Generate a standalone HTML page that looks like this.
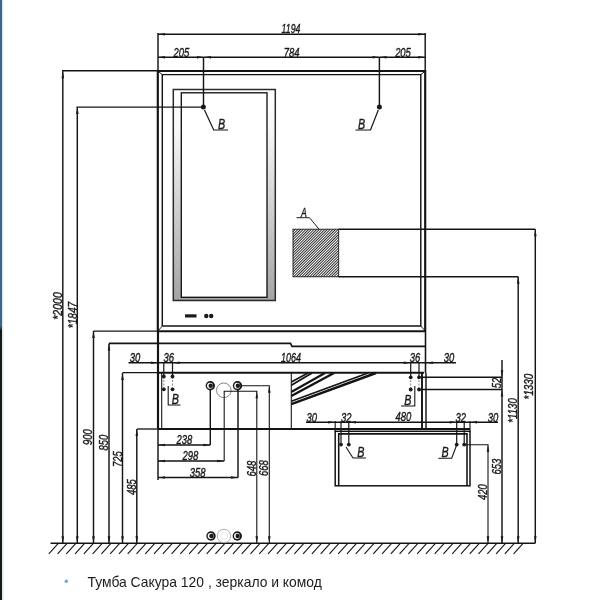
<!DOCTYPE html>
<html><head><meta charset="utf-8"><style>
html,body{margin:0;padding:0;background:#fff;}
body{width:600px;height:600px;overflow:hidden;position:relative;font-family:"Liberation Sans",sans-serif;}
svg{position:absolute;left:0;top:0;filter:blur(0.45px);}
svg text{font-family:"Liberation Sans",sans-serif;font-style:italic;fill:#1a1a1a;stroke:#1a1a1a;stroke-width:0.4px;}
.cap{position:absolute;left:87px;top:574px;font-size:12px;color:#111;white-space:nowrap;line-height:14px;}
.dot{position:absolute;left:65px;top:578.5px;width:3px;height:3px;border-radius:50%;background:#7db6dc;}
.s1{position:absolute;left:0;top:0;width:2.3px;height:600px;background:linear-gradient(#40648a 0,#40648a 326px,#0c1a12 331px,#1a1a1a 337px,#1a1a1a 600px);}
.s2{position:absolute;left:2.3px;top:0;width:2px;height:600px;background:linear-gradient(90deg,#cfe0ea,#fff);}
</style></head><body>
<svg width="600" height="600" viewBox="0 0 600 600">
<defs>
<pattern id="hatch" width="1.9" height="1.9" patternUnits="userSpaceOnUse" patternTransform="rotate(-45)"><rect width="1.9" height="1.9" fill="#fff"/><rect width="1.9" height="0.95" fill="#2a2a2a"/></pattern>
<linearGradient id="mg" x1="0" y1="0" x2="0" y2="1"><stop offset="0" stop-color="#fff"/><stop offset="0.2" stop-color="#f6f6f6"/><stop offset="0.5" stop-color="#d6d6d6"/><stop offset="1" stop-color="#a4a4a4"/></linearGradient>
</defs>
<rect x="173.3" y="89.5" width="102" height="211" fill="url(#mg)" stroke="#2a2a2a" stroke-width="1.5"/>
<rect x="181.3" y="92.8" width="85.69999999999999" height="204.5" fill="#fff" stroke="#141414" stroke-width="1.35"/>
<line x1="158" y1="34.3" x2="425.2" y2="34.3" stroke="#141414" stroke-width="1.44"/>
<polygon points="158,34.3 165,33.0 165,35.599999999999994" fill="#1a1a1a"/>
<polygon points="425.2,34.3 418.2,33.0 418.2,35.599999999999994" fill="#1a1a1a"/>
<line x1="158" y1="33" x2="158" y2="71" stroke="#141414" stroke-width="1.44"/>
<line x1="425.2" y1="33" x2="425.2" y2="71" stroke="#141414" stroke-width="1.44"/>
<line x1="158" y1="57.3" x2="425.2" y2="57.3" stroke="#141414" stroke-width="1.44"/>
<polygon points="158,57.3 165,56.0 165,58.599999999999994" fill="#1a1a1a"/>
<polygon points="204,57.3 197,56.0 197,58.599999999999994" fill="#1a1a1a"/>
<polygon points="204,57.3 211,56.0 211,58.599999999999994" fill="#1a1a1a"/>
<polygon points="379.5,57.3 372.5,56.0 372.5,58.599999999999994" fill="#1a1a1a"/>
<polygon points="379.5,57.3 386.5,56.0 386.5,58.599999999999994" fill="#1a1a1a"/>
<polygon points="425.2,57.3 418.2,56.0 418.2,58.599999999999994" fill="#1a1a1a"/>
<line x1="203.5" y1="57" x2="203.5" y2="107" stroke="#141414" stroke-width="1.44"/>
<line x1="379.4" y1="57" x2="379.4" y2="107" stroke="#141414" stroke-width="1.44"/>
<text x="291" y="33.3" text-anchor="middle" font-size="13.2" textLength="18.8" lengthAdjust="spacingAndGlyphs">1194</text>
<text x="181.3" y="56.8" text-anchor="middle" font-size="13.2" textLength="15.75" lengthAdjust="spacingAndGlyphs">205</text>
<text x="291.7" y="56.8" text-anchor="middle" font-size="13.2" textLength="15.75" lengthAdjust="spacingAndGlyphs">784</text>
<text x="403" y="56.8" text-anchor="middle" font-size="13.2" textLength="15.75" lengthAdjust="spacingAndGlyphs">205</text>
<polyline points="157.8,331 157.8,71 425.2,71 425.2,331" fill="none" stroke="#141414" stroke-width="2.16"/>
<polyline points="162.3,326 162.3,74.6 420.8,74.6 420.8,326 162.3,326" fill="none" stroke="#141414" stroke-width="1.44"/>
<line x1="158" y1="71.2" x2="162.3" y2="74.6" stroke="#141414" stroke-width="0.96"/>
<line x1="425.2" y1="71.2" x2="420.8" y2="74.6" stroke="#141414" stroke-width="0.96"/>
<line x1="158" y1="331" x2="162.3" y2="326" stroke="#141414" stroke-width="0.96"/>
<line x1="425.2" y1="331" x2="420.8" y2="326" stroke="#141414" stroke-width="0.96"/>
<line x1="93.5" y1="331.2" x2="158" y2="331.2" stroke="#141414" stroke-width="1.32"/>
<line x1="158" y1="331.2" x2="425.2" y2="331.2" stroke="#141414" stroke-width="2.04"/>
<rect x="185" y="314.3" width="11.5" height="3.2" fill="#1a1a1a"/>
<circle cx="206.3" cy="316" r="2.2" fill="#1a1a1a" stroke="none" stroke-width="0"/>
<circle cx="211.2" cy="316" r="2.2" fill="#1a1a1a" stroke="none" stroke-width="0"/>
<circle cx="203.4" cy="107" r="2.5" fill="#1a1a1a" stroke="none" stroke-width="0"/>
<circle cx="379.4" cy="107" r="2.5" fill="#1a1a1a" stroke="none" stroke-width="0"/>
<polyline points="204.5,110 213.7,130 228,130" fill="none" stroke="#141414" stroke-width="1.2"/>
<polyline points="378.3,110 370.5,130 355.5,130" fill="none" stroke="#141414" stroke-width="1.2"/>
<text x="221.6" y="129.3" text-anchor="middle" font-size="14" textLength="7.2" lengthAdjust="spacingAndGlyphs">B</text>
<text x="361.5" y="129.3" text-anchor="middle" font-size="14" textLength="7.2" lengthAdjust="spacingAndGlyphs">B</text>
<line x1="62" y1="70.7" x2="157.5" y2="70.7" stroke="#141414" stroke-width="1.44"/>
<line x1="76.5" y1="107.1" x2="203.4" y2="107.1" stroke="#141414" stroke-width="1.44"/>
<rect x="293" y="229.2" width="45.7" height="47.6" fill="url(#hatch)" stroke="#1a1a1a" stroke-width="0.9"/>
<line x1="338.7" y1="229.2" x2="535.3" y2="229.2" stroke="#141414" stroke-width="1.44"/>
<line x1="338.7" y1="276.8" x2="518.2" y2="276.8" stroke="#141414" stroke-width="1.44"/>
<text x="303.8" y="216.7" text-anchor="middle" font-size="13.2" textLength="5.8" lengthAdjust="spacingAndGlyphs">A</text>
<polyline points="296.5,217.7 309.5,217.7 319,229.2" fill="none" stroke="#141414" stroke-width="0.96"/>
<line x1="62.8" y1="71.2" x2="62.8" y2="543.3" stroke="#141414" stroke-width="1.44"/>
<polygon points="62.8,71.2 61.5,78.2 64.1,78.2" fill="#1a1a1a"/>
<polygon points="62.8,543.3 61.5,536.3 64.1,536.3" fill="#1a1a1a"/>
<text transform="translate(62,306) rotate(-90)" x="0" y="0" text-anchor="middle" font-size="13.2" textLength="27.5" lengthAdjust="spacingAndGlyphs">*2000</text>
<line x1="77.3" y1="107" x2="77.3" y2="543.3" stroke="#141414" stroke-width="1.44"/>
<polygon points="77.3,107 76.0,114 78.6,114" fill="#1a1a1a"/>
<polygon points="77.3,543.3 76.0,536.3 78.6,536.3" fill="#1a1a1a"/>
<text transform="translate(76.7,315) rotate(-90)" x="0" y="0" text-anchor="middle" font-size="13.2" textLength="26.5" lengthAdjust="spacingAndGlyphs">*1847</text>
<line x1="93.5" y1="331" x2="93.5" y2="543.3" stroke="#141414" stroke-width="1.44"/>
<polygon points="93.5,331 92.2,338 94.8,338" fill="#1a1a1a"/>
<polygon points="93.5,543.3 92.2,536.3 94.8,536.3" fill="#1a1a1a"/>
<text transform="translate(92,437) rotate(-90)" x="0" y="0" text-anchor="middle" font-size="13.2" textLength="15.75" lengthAdjust="spacingAndGlyphs">900</text>
<line x1="109" y1="343.4" x2="109" y2="543.3" stroke="#141414" stroke-width="1.44"/>
<polygon points="109,343.4 107.7,350.4 110.3,350.4" fill="#1a1a1a"/>
<polygon points="109,543.3 107.7,536.3 110.3,536.3" fill="#1a1a1a"/>
<text transform="translate(108,442.5) rotate(-90)" x="0" y="0" text-anchor="middle" font-size="13.2" textLength="15.75" lengthAdjust="spacingAndGlyphs">850</text>
<line x1="122.5" y1="373" x2="122.5" y2="543.3" stroke="#141414" stroke-width="1.44"/>
<polygon points="122.5,373 121.2,380 123.8,380" fill="#1a1a1a"/>
<polygon points="122.5,543.3 121.2,536.3 123.8,536.3" fill="#1a1a1a"/>
<text transform="translate(122,459) rotate(-90)" x="0" y="0" text-anchor="middle" font-size="13.2" textLength="15.75" lengthAdjust="spacingAndGlyphs">725</text>
<line x1="136.8" y1="429" x2="136.8" y2="543.3" stroke="#141414" stroke-width="1.44"/>
<polygon points="136.8,429 135.5,436 138.10000000000002,436" fill="#1a1a1a"/>
<polygon points="136.8,543.3 135.5,536.3 138.10000000000002,536.3" fill="#1a1a1a"/>
<text transform="translate(136,487) rotate(-90)" x="0" y="0" text-anchor="middle" font-size="13.2" textLength="15.75" lengthAdjust="spacingAndGlyphs">485</text>
<polyline points="109,343.4 290.5,343.4 292,346.3 425.5,346.3" fill="none" stroke="#141414" stroke-width="1.68"/>
<line x1="158" y1="331" x2="158" y2="373" stroke="#141414" stroke-width="2.16"/>
<line x1="425.5" y1="331" x2="425.5" y2="373" stroke="#141414" stroke-width="1.56"/>
<line x1="128.5" y1="362.8" x2="456" y2="362.8" stroke="#141414" stroke-width="1.44"/>
<polygon points="158,362.8 151,361.5 151,364.1" fill="#1a1a1a"/>
<polygon points="172.7,362.8 179.7,361.5 179.7,364.1" fill="#1a1a1a"/>
<polygon points="410.7,362.8 403.7,361.5 403.7,364.1" fill="#1a1a1a"/>
<polygon points="426,362.8 433,361.5 433,364.1" fill="#1a1a1a"/>
<text x="135" y="361.8" text-anchor="middle" font-size="13.2" textLength="10.5" lengthAdjust="spacingAndGlyphs">30</text>
<text x="168.8" y="361.8" text-anchor="middle" font-size="13.2" textLength="10.5" lengthAdjust="spacingAndGlyphs">36</text>
<text x="291" y="362" text-anchor="middle" font-size="13.2" textLength="20" lengthAdjust="spacingAndGlyphs">1064</text>
<text x="415" y="361.8" text-anchor="middle" font-size="13.2" textLength="10.5" lengthAdjust="spacingAndGlyphs">36</text>
<text x="449" y="361.8" text-anchor="middle" font-size="13.2" textLength="10.5" lengthAdjust="spacingAndGlyphs">30</text>
<line x1="122.5" y1="372.7" x2="158" y2="372.7" stroke="#141414" stroke-width="1.32"/>
<line x1="158" y1="372.7" x2="424" y2="372.7" stroke="#141414" stroke-width="2.04"/>
<line x1="158" y1="373" x2="158" y2="428.8" stroke="#141414" stroke-width="2.16"/>
<line x1="161.7" y1="373" x2="161.7" y2="428.8" stroke="#141414" stroke-width="1.08"/>
<line x1="137" y1="429" x2="158" y2="429" stroke="#141414" stroke-width="1.32"/>
<line x1="158" y1="429" x2="470" y2="429" stroke="#141414" stroke-width="2.04"/>
<line x1="426" y1="373" x2="426" y2="428.8" stroke="#141414" stroke-width="1.44"/>
<line x1="422" y1="372.7" x2="422" y2="428.8" stroke="#141414" stroke-width="1.92"/>
<line x1="291.3" y1="373" x2="291.3" y2="428.8" stroke="#141414" stroke-width="1.08"/>
<line x1="291.3" y1="404.2" x2="376" y2="373" stroke="#141414" stroke-width="2.4"/>
<line x1="291.3" y1="401.3" x2="368" y2="373" stroke="#141414" stroke-width="1.68"/>
<line x1="291.3" y1="396" x2="334" y2="373" stroke="#141414" stroke-width="2.4"/>
<line x1="291.3" y1="392" x2="325" y2="373" stroke="#141414" stroke-width="2.04"/>
<line x1="291.3" y1="385.3" x2="312" y2="373" stroke="#141414" stroke-width="1.8"/>
<line x1="291.3" y1="382" x2="308" y2="373" stroke="#141414" stroke-width="1.56"/>
<line x1="163.8" y1="362.5" x2="163.8" y2="376.5" stroke="#141414" stroke-width="1.2"/>
<line x1="163.8" y1="376.5" x2="163.8" y2="389" stroke="#555" stroke-width="0.7" stroke-dasharray="2 1.5"/>
<circle cx="163.8" cy="376.5" r="1.9" fill="#1a1a1a" stroke="none" stroke-width="0"/>
<circle cx="163.8" cy="389.3" r="1.9" fill="#1a1a1a" stroke="none" stroke-width="0"/>
<line x1="172.5" y1="362.5" x2="172.5" y2="376.5" stroke="#141414" stroke-width="1.2"/>
<line x1="172.5" y1="376.5" x2="172.5" y2="389" stroke="#555" stroke-width="0.7" stroke-dasharray="2 1.5"/>
<circle cx="172.5" cy="376.5" r="1.9" fill="#1a1a1a" stroke="none" stroke-width="0"/>
<circle cx="172.5" cy="389.3" r="1.9" fill="#1a1a1a" stroke="none" stroke-width="0"/>
<polyline points="168.2,386 168.2,405 180.5,405" fill="none" stroke="#141414" stroke-width="1.08"/>
<text x="175.3" y="404" text-anchor="middle" font-size="14" textLength="7.2" lengthAdjust="spacingAndGlyphs">B</text>
<line x1="410.7" y1="362.5" x2="410.7" y2="376.5" stroke="#141414" stroke-width="1.2"/>
<line x1="410.7" y1="376.5" x2="410.7" y2="389" stroke="#555" stroke-width="0.7" stroke-dasharray="2 1.5"/>
<circle cx="410.7" cy="377.3" r="1.9" fill="#1a1a1a" stroke="none" stroke-width="0"/>
<circle cx="410.7" cy="389.5" r="1.9" fill="#1a1a1a" stroke="none" stroke-width="0"/>
<line x1="419" y1="362.5" x2="419" y2="376.5" stroke="#141414" stroke-width="1.2"/>
<line x1="419" y1="376.5" x2="419" y2="389" stroke="#555" stroke-width="0.7" stroke-dasharray="2 1.5"/>
<circle cx="419" cy="377.3" r="1.9" fill="#1a1a1a" stroke="none" stroke-width="0"/>
<circle cx="419" cy="389.5" r="1.9" fill="#1a1a1a" stroke="none" stroke-width="0"/>
<line x1="419" y1="377.3" x2="502" y2="377.3" stroke="#141414" stroke-width="1.44"/>
<line x1="419" y1="389.5" x2="502" y2="389.5" stroke="#141414" stroke-width="1.44"/>
<polyline points="414.8,386 414.8,406 401,406" fill="none" stroke="#141414" stroke-width="1.08"/>
<text x="407.8" y="405" text-anchor="middle" font-size="14" textLength="7.2" lengthAdjust="spacingAndGlyphs">B</text>
<circle cx="210.3" cy="385.8" r="4.7" fill="#1a1a1a" stroke="none" stroke-width="0"/>
<circle cx="210.0" cy="385.8" r="3.0" fill="#fff" stroke="none" stroke-width="0"/>
<circle cx="210.70000000000002" cy="385.8" r="2.2" fill="#1a1a1a" stroke="none" stroke-width="0"/>
<circle cx="237.5" cy="385.8" r="4.7" fill="#1a1a1a" stroke="none" stroke-width="0"/>
<circle cx="237.2" cy="385.8" r="3.0" fill="#fff" stroke="none" stroke-width="0"/>
<circle cx="237.9" cy="385.8" r="2.2" fill="#1a1a1a" stroke="none" stroke-width="0"/>
<circle cx="223.8" cy="390.3" r="7.3" fill="none" stroke="#666" stroke-width="0.8"/>
<polyline points="241,385.8 269.3,385.8 269.3,543.3" fill="none" stroke="#141414" stroke-width="1.08"/>
<polygon points="269.3,385.8 268.0,392.8 270.6,392.8" fill="#1a1a1a"/>
<polygon points="269.3,543.3 268.0,536.3 270.6,536.3" fill="#1a1a1a"/>
<polyline points="224.2,461 224.2,391.3 256.8,391.3 256.8,543.3" fill="none" stroke="#141414" stroke-width="1.08"/>
<polygon points="256.8,391.3 255.5,398.3 258.1,398.3" fill="#1a1a1a"/>
<polygon points="256.8,543.3 255.5,536.3 258.1,536.3" fill="#1a1a1a"/>
<line x1="210.3" y1="390" x2="210.3" y2="445" stroke="#141414" stroke-width="1.44"/>
<line x1="238" y1="390" x2="238" y2="477.5" stroke="#141414" stroke-width="1.44"/>
<line x1="158" y1="428.8" x2="158" y2="480" stroke="#141414" stroke-width="1.44"/>
<line x1="158" y1="445" x2="210.3" y2="445" stroke="#141414" stroke-width="1.44"/>
<polygon points="158,445 165,443.7 165,446.3" fill="#1a1a1a"/>
<polygon points="210.3,445 203.3,443.7 203.3,446.3" fill="#1a1a1a"/>
<line x1="158" y1="461" x2="224.2" y2="461" stroke="#141414" stroke-width="1.44"/>
<polygon points="158,461 165,459.7 165,462.3" fill="#1a1a1a"/>
<polygon points="224.2,461 217.2,459.7 217.2,462.3" fill="#1a1a1a"/>
<line x1="158" y1="477.5" x2="238" y2="477.5" stroke="#141414" stroke-width="1.44"/>
<polygon points="158,477.5 165,476.2 165,478.8" fill="#1a1a1a"/>
<polygon points="238,477.5 231,476.2 231,478.8" fill="#1a1a1a"/>
<text x="184.3" y="444.3" text-anchor="middle" font-size="13.2" textLength="15.75" lengthAdjust="spacingAndGlyphs">238</text>
<text x="190.3" y="460.3" text-anchor="middle" font-size="13.2" textLength="15.75" lengthAdjust="spacingAndGlyphs">298</text>
<text x="197.7" y="476.8" text-anchor="middle" font-size="13.2" textLength="15.75" lengthAdjust="spacingAndGlyphs">358</text>
<text transform="translate(255.5,468.5) rotate(-90)" x="0" y="0" text-anchor="middle" font-size="13.2" textLength="15.75" lengthAdjust="spacingAndGlyphs">648</text>
<text transform="translate(268,468) rotate(-90)" x="0" y="0" text-anchor="middle" font-size="13.2" textLength="15.75" lengthAdjust="spacingAndGlyphs">668</text>
<line x1="306" y1="422.2" x2="498" y2="422.2" stroke="#141414" stroke-width="1.44"/>
<polygon points="335.2,422.2 328.2,420.9 328.2,423.5" fill="#1a1a1a"/>
<polygon points="349,422.2 356,420.9 356,423.5" fill="#1a1a1a"/>
<polygon points="456.7,422.2 449.7,420.9 449.7,423.5" fill="#1a1a1a"/>
<polygon points="470,422.2 477,420.9 477,423.5" fill="#1a1a1a"/>
<text x="311.8" y="421.5" text-anchor="middle" font-size="13.2" textLength="10.5" lengthAdjust="spacingAndGlyphs">30</text>
<text x="346.2" y="421.5" text-anchor="middle" font-size="13.2" textLength="10.5" lengthAdjust="spacingAndGlyphs">32</text>
<text x="403.3" y="421.3" text-anchor="middle" font-size="13.2" textLength="15.75" lengthAdjust="spacingAndGlyphs">480</text>
<text x="460.8" y="421.5" text-anchor="middle" font-size="13.2" textLength="10.5" lengthAdjust="spacingAndGlyphs">32</text>
<text x="493" y="421.5" text-anchor="middle" font-size="13.2" textLength="10.5" lengthAdjust="spacingAndGlyphs">30</text>
<rect x="335.2" y="431.3" width="134.8" height="54.5" fill="none" stroke="#141414" stroke-width="1.5"/>
<polyline points="338.7,485.8 338.7,433.9 467,433.9 467,485.8" fill="none" stroke="#141414" stroke-width="1.56"/>
<line x1="335.2" y1="421" x2="335.2" y2="432" stroke="#141414" stroke-width="1.08"/>
<line x1="470" y1="421" x2="470" y2="432" stroke="#141414" stroke-width="1.08"/>
<line x1="341" y1="421" x2="341" y2="445" stroke="#141414" stroke-width="1.2"/>
<circle cx="341" cy="444.6" r="1.9" fill="#1a1a1a" stroke="none" stroke-width="0"/>
<line x1="348.8" y1="421" x2="348.8" y2="445" stroke="#141414" stroke-width="1.2"/>
<circle cx="348.8" cy="444.6" r="1.9" fill="#1a1a1a" stroke="none" stroke-width="0"/>
<line x1="456.7" y1="421" x2="456.7" y2="445" stroke="#141414" stroke-width="1.2"/>
<circle cx="456.7" cy="444.6" r="1.9" fill="#1a1a1a" stroke="none" stroke-width="0"/>
<line x1="464.2" y1="421" x2="464.2" y2="445" stroke="#141414" stroke-width="1.2"/>
<circle cx="464.2" cy="444.6" r="1.9" fill="#1a1a1a" stroke="none" stroke-width="0"/>
<polyline points="346,447 353,458 366,458" fill="none" stroke="#141414" stroke-width="1.08"/>
<text x="360.8" y="457" text-anchor="middle" font-size="14" textLength="7.2" lengthAdjust="spacingAndGlyphs">B</text>
<polyline points="456.7,445 451.7,458.3 438.3,458.3" fill="none" stroke="#141414" stroke-width="1.08"/>
<text x="445" y="457.3" text-anchor="middle" font-size="14" textLength="7.2" lengthAdjust="spacingAndGlyphs">B</text>
<polyline points="464.2,444.8 488,444.8 488,543.3" fill="none" stroke="#141414" stroke-width="1.08"/>
<polygon points="488,444.8 486.7,451.8 489.3,451.8" fill="#1a1a1a"/>
<polygon points="488,543.3 486.7,536.3 489.3,536.3" fill="#1a1a1a"/>
<text transform="translate(487,492) rotate(-90)" x="0" y="0" text-anchor="middle" font-size="13.2" textLength="15.75" lengthAdjust="spacingAndGlyphs">420</text>
<line x1="502" y1="360" x2="502" y2="543.3" stroke="#141414" stroke-width="1.44"/>
<polygon points="502,377.3 500.7,370.3 503.3,370.3" fill="#1a1a1a"/>
<polygon points="502,389.5 500.7,396.5 503.3,396.5" fill="#1a1a1a"/>
<polygon points="502,543.3 500.7,536.3 503.3,536.3" fill="#1a1a1a"/>
<text transform="translate(501,383) rotate(-90)" x="0" y="0" text-anchor="middle" font-size="13.2" textLength="10.5" lengthAdjust="spacingAndGlyphs">52</text>
<text transform="translate(500.5,466.7) rotate(-90)" x="0" y="0" text-anchor="middle" font-size="13.2" textLength="15.75" lengthAdjust="spacingAndGlyphs">653</text>
<line x1="518.2" y1="276.8" x2="518.2" y2="543.3" stroke="#141414" stroke-width="1.44"/>
<polygon points="518.2,276.8 516.9000000000001,283.8 519.5,283.8" fill="#1a1a1a"/>
<polygon points="518.2,543.3 516.9000000000001,536.3 519.5,536.3" fill="#1a1a1a"/>
<line x1="535.3" y1="229.2" x2="535.3" y2="543.3" stroke="#141414" stroke-width="1.44"/>
<polygon points="535.3,229.2 534.0,236.2 536.5999999999999,236.2" fill="#1a1a1a"/>
<polygon points="535.3,543.3 534.0,536.3 536.5999999999999,536.3" fill="#1a1a1a"/>
<text transform="translate(516.5,410.4) rotate(-90)" x="0" y="0" text-anchor="middle" font-size="13.2" textLength="24.5" lengthAdjust="spacingAndGlyphs">*1130</text>
<text transform="translate(533.3,386.6) rotate(-90)" x="0" y="0" text-anchor="middle" font-size="13.2" textLength="25.7" lengthAdjust="spacingAndGlyphs">*1330</text>
<line x1="50.5" y1="543.3" x2="535.3" y2="543.3" stroke="#141414" stroke-width="1.56"/>
<line x1="58.3" y1="543.3" x2="48.8" y2="553.8" stroke="#141414" stroke-width="1.08"/>
<line x1="67.07" y1="543.3" x2="57.56999999999999" y2="553.8" stroke="#141414" stroke-width="1.08"/>
<line x1="75.83999999999999" y1="543.3" x2="66.33999999999999" y2="553.8" stroke="#141414" stroke-width="1.08"/>
<line x1="84.60999999999999" y1="543.3" x2="75.10999999999999" y2="553.8" stroke="#141414" stroke-width="1.08"/>
<line x1="93.37999999999998" y1="543.3" x2="83.87999999999998" y2="553.8" stroke="#141414" stroke-width="1.08"/>
<line x1="102.14999999999998" y1="543.3" x2="92.64999999999998" y2="553.8" stroke="#141414" stroke-width="1.08"/>
<line x1="110.91999999999997" y1="543.3" x2="101.41999999999997" y2="553.8" stroke="#141414" stroke-width="1.08"/>
<line x1="119.68999999999997" y1="543.3" x2="110.18999999999997" y2="553.8" stroke="#141414" stroke-width="1.08"/>
<line x1="128.45999999999998" y1="543.3" x2="118.95999999999998" y2="553.8" stroke="#141414" stroke-width="1.08"/>
<line x1="137.23" y1="543.3" x2="127.72999999999999" y2="553.8" stroke="#141414" stroke-width="1.08"/>
<line x1="146.0" y1="543.3" x2="136.5" y2="553.8" stroke="#141414" stroke-width="1.08"/>
<line x1="154.77" y1="543.3" x2="145.27" y2="553.8" stroke="#141414" stroke-width="1.08"/>
<line x1="163.54000000000002" y1="543.3" x2="154.04000000000002" y2="553.8" stroke="#141414" stroke-width="1.08"/>
<line x1="172.31000000000003" y1="543.3" x2="162.81000000000003" y2="553.8" stroke="#141414" stroke-width="1.08"/>
<line x1="181.08000000000004" y1="543.3" x2="171.58000000000004" y2="553.8" stroke="#141414" stroke-width="1.08"/>
<line x1="189.85000000000005" y1="543.3" x2="180.35000000000005" y2="553.8" stroke="#141414" stroke-width="1.08"/>
<line x1="198.62000000000006" y1="543.3" x2="189.12000000000006" y2="553.8" stroke="#141414" stroke-width="1.08"/>
<line x1="207.39000000000007" y1="543.3" x2="197.89000000000007" y2="553.8" stroke="#141414" stroke-width="1.08"/>
<line x1="216.16000000000008" y1="543.3" x2="206.66000000000008" y2="553.8" stroke="#141414" stroke-width="1.08"/>
<line x1="224.9300000000001" y1="543.3" x2="215.4300000000001" y2="553.8" stroke="#141414" stroke-width="1.08"/>
<line x1="233.7000000000001" y1="543.3" x2="224.2000000000001" y2="553.8" stroke="#141414" stroke-width="1.08"/>
<line x1="242.4700000000001" y1="543.3" x2="232.9700000000001" y2="553.8" stroke="#141414" stroke-width="1.08"/>
<line x1="251.24000000000012" y1="543.3" x2="241.74000000000012" y2="553.8" stroke="#141414" stroke-width="1.08"/>
<line x1="260.0100000000001" y1="543.3" x2="250.5100000000001" y2="553.8" stroke="#141414" stroke-width="1.08"/>
<line x1="268.7800000000001" y1="543.3" x2="259.2800000000001" y2="553.8" stroke="#141414" stroke-width="1.08"/>
<line x1="277.55000000000007" y1="543.3" x2="268.05000000000007" y2="553.8" stroke="#141414" stroke-width="1.08"/>
<line x1="286.32000000000005" y1="543.3" x2="276.82000000000005" y2="553.8" stroke="#141414" stroke-width="1.08"/>
<line x1="295.09000000000003" y1="543.3" x2="285.59000000000003" y2="553.8" stroke="#141414" stroke-width="1.08"/>
<line x1="303.86" y1="543.3" x2="294.36" y2="553.8" stroke="#141414" stroke-width="1.08"/>
<line x1="312.63" y1="543.3" x2="303.13" y2="553.8" stroke="#141414" stroke-width="1.08"/>
<line x1="321.4" y1="543.3" x2="311.9" y2="553.8" stroke="#141414" stroke-width="1.08"/>
<line x1="330.16999999999996" y1="543.3" x2="320.66999999999996" y2="553.8" stroke="#141414" stroke-width="1.08"/>
<line x1="338.93999999999994" y1="543.3" x2="329.43999999999994" y2="553.8" stroke="#141414" stroke-width="1.08"/>
<line x1="347.7099999999999" y1="543.3" x2="338.2099999999999" y2="553.8" stroke="#141414" stroke-width="1.08"/>
<line x1="356.4799999999999" y1="543.3" x2="346.9799999999999" y2="553.8" stroke="#141414" stroke-width="1.08"/>
<line x1="365.2499999999999" y1="543.3" x2="355.7499999999999" y2="553.8" stroke="#141414" stroke-width="1.08"/>
<line x1="374.01999999999987" y1="543.3" x2="364.51999999999987" y2="553.8" stroke="#141414" stroke-width="1.08"/>
<line x1="382.78999999999985" y1="543.3" x2="373.28999999999985" y2="553.8" stroke="#141414" stroke-width="1.08"/>
<line x1="391.55999999999983" y1="543.3" x2="382.05999999999983" y2="553.8" stroke="#141414" stroke-width="1.08"/>
<line x1="400.3299999999998" y1="543.3" x2="390.8299999999998" y2="553.8" stroke="#141414" stroke-width="1.08"/>
<line x1="409.0999999999998" y1="543.3" x2="399.5999999999998" y2="553.8" stroke="#141414" stroke-width="1.08"/>
<line x1="417.8699999999998" y1="543.3" x2="408.3699999999998" y2="553.8" stroke="#141414" stroke-width="1.08"/>
<line x1="426.63999999999976" y1="543.3" x2="417.13999999999976" y2="553.8" stroke="#141414" stroke-width="1.08"/>
<line x1="435.40999999999974" y1="543.3" x2="425.90999999999974" y2="553.8" stroke="#141414" stroke-width="1.08"/>
<line x1="444.1799999999997" y1="543.3" x2="434.6799999999997" y2="553.8" stroke="#141414" stroke-width="1.08"/>
<line x1="452.9499999999997" y1="543.3" x2="443.4499999999997" y2="553.8" stroke="#141414" stroke-width="1.08"/>
<line x1="461.7199999999997" y1="543.3" x2="452.2199999999997" y2="553.8" stroke="#141414" stroke-width="1.08"/>
<line x1="470.48999999999967" y1="543.3" x2="460.98999999999967" y2="553.8" stroke="#141414" stroke-width="1.08"/>
<line x1="479.25999999999965" y1="543.3" x2="469.75999999999965" y2="553.8" stroke="#141414" stroke-width="1.08"/>
<line x1="488.02999999999963" y1="543.3" x2="478.52999999999963" y2="553.8" stroke="#141414" stroke-width="1.08"/>
<line x1="496.7999999999996" y1="543.3" x2="487.2999999999996" y2="553.8" stroke="#141414" stroke-width="1.08"/>
<line x1="505.5699999999996" y1="543.3" x2="496.0699999999996" y2="553.8" stroke="#141414" stroke-width="1.08"/>
<line x1="514.3399999999996" y1="543.3" x2="504.8399999999996" y2="553.8" stroke="#141414" stroke-width="1.08"/>
<line x1="523.1099999999996" y1="543.3" x2="513.6099999999996" y2="553.8" stroke="#141414" stroke-width="1.08"/>
<circle cx="211" cy="536" r="4.7" fill="#1a1a1a" stroke="none" stroke-width="0"/>
<circle cx="210.7" cy="536" r="3.0" fill="#fff" stroke="none" stroke-width="0"/>
<circle cx="211.4" cy="536" r="2.2" fill="#1a1a1a" stroke="none" stroke-width="0"/>
<circle cx="237.3" cy="536" r="4.7" fill="#1a1a1a" stroke="none" stroke-width="0"/>
<circle cx="237.0" cy="536" r="3.0" fill="#fff" stroke="none" stroke-width="0"/>
<circle cx="237.70000000000002" cy="536" r="2.2" fill="#1a1a1a" stroke="none" stroke-width="0"/>
<circle cx="224" cy="536" r="6.7" fill="#fff" stroke="#999" stroke-width="0.8"/>
<circle cx="224.3" cy="536" r="3.5" fill="none" stroke="#ddd" stroke-width="0.8"/>
<text id="cap" x="87.5" y="586.7" style="font-style:normal;font-size:13.9px;stroke:none;fill:#1c1c1c">Тумба Сакура 120 , зеркало и комод</text>
<circle cx="66.3" cy="581.2" r="1.7" fill="#6aa9d2"/>
</svg>
<div class="s1"></div><div class="s2"></div>

</body></html>
